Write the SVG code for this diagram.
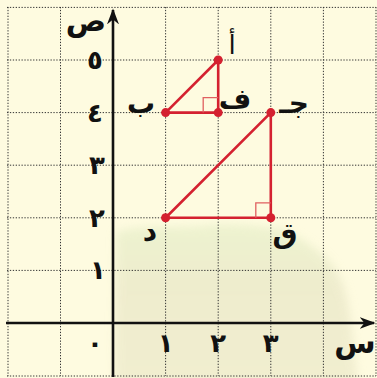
<svg xmlns="http://www.w3.org/2000/svg" width="377" height="378" viewBox="0 0 377 378">
<defs>
<style>
.grid{stroke:#333;stroke-width:1;stroke-dasharray:1.3 1.6;fill:none}
.axis{stroke:#111;stroke-width:2.6;fill:none}
.seg{stroke:#d42130;stroke-width:2.6;fill:none;stroke-linecap:round}
.ra{stroke:#e06060;stroke-width:1.3;fill:none}
.pt{fill:#d42130}
.num{font-family:"DejaVu Sans",sans-serif;font-weight:bold;font-size:26px;fill:#111;text-anchor:middle;dominant-baseline:central}
.lbl{font-family:"DejaVu Sans",sans-serif;font-weight:bold;font-size:28px;fill:#111;text-anchor:middle;dominant-baseline:central}
</style>
<marker id="ah" viewBox="0 0 10 10" refX="9" refY="5" markerWidth="16" markerHeight="12" markerUnits="userSpaceOnUse" orient="auto" preserveAspectRatio="none">
<path d="M0,0 L10,5 L0,10 L3,5 Z" fill="#111"/>
</marker>
<linearGradient id="bg2" x1="0" y1="0" x2="0" y2="1">
<stop offset="0" stop-color="#e2edc4"/>
<stop offset="0.4" stop-color="#e5e3c2"/>
<stop offset="1" stop-color="#e9e6c6"/>
</linearGradient>
<filter id="blur" x="-20%" y="-20%" width="140%" height="140%"><feGaussianBlur stdDeviation="5"/></filter>
</defs>
<rect width="377" height="378" fill="#fefbe0"/>
<g filter="url(#blur)" opacity="0.6">
<path d="M116,232 C140,224 170,228 200,226 C230,222 260,226 285,230 C305,240 318,250 330,262 C345,280 348,300 352,330 L358,385 L114,385 Z" fill="url(#bg2)"/>
</g>
<g id="grid">
<path class="grid" d="M8,7V376M60.5,7V376M165.6,7V376M218.2,7V376M270.8,7V376M323.4,7V376M376,7V376"/>
<path class="grid" d="M7,7.4H376M7,60H376M7,112.6H376M7,165.2H376M7,217.8H376M7,270.4H376M7,376H376"/>
</g>
<g id="connectors">
<line class="axis" x1="113" y1="377" x2="113" y2="10" marker-end="url(#ah)"/>
<line class="axis" x1="6" y1="323" x2="374" y2="323" marker-end="url(#ah)"/>
<path class="seg" d="M218.2,60 L165.6,112.6 L218.2,112.6 Z"/>
<path class="seg" d="M270.8,112.6 L165.6,217.8 L270.8,217.8 Z"/>
<path class="ra" d="M203.2,112.6 V97.6 H218.2"/>
<path class="ra" d="M255.8,217.8 V202.8 H270.8"/>
</g>
<g id="pA"><circle class="pt" cx="218.2" cy="60" r="4.5"/><text class="lbl" x="232" y="45" style="font-weight:normal;font-size:26px">أ</text></g>
<g id="pB"><circle class="pt" cx="165.6" cy="112.6" r="4.5"/><text class="lbl" x="141" y="103">ب</text></g>
<g id="pF"><circle class="pt" cx="218.2" cy="112.6" r="4.5"/><text class="lbl" x="235" y="98">ف</text></g>
<g id="pJ"><circle class="pt" cx="270.8" cy="112.6" r="4.5"/><text class="lbl" x="294" y="103">جـ</text></g>
<g id="pD"><circle class="pt" cx="165.6" cy="217.8" r="4.5"/><text class="lbl" x="150" y="231">د</text></g>
<g id="pQ"><circle class="pt" cx="270.8" cy="217.8" r="4.5"/><text class="lbl" x="285" y="233">ق</text></g>
<g id="labels">
<text class="lbl" x="86" y="20" style="font-size:30px">ص</text>
<text class="lbl" x="355" y="342" style="font-size:30px">س</text>
<text class="num" x="95" y="60">٥</text>
<text class="num" x="95" y="112.6">٤</text>
<text class="num" x="97" y="165.2">٣</text>
<text class="num" x="97" y="217.8">٢</text>
<text class="num" x="98" y="270.4">١</text>
<text class="num" x="95" y="343">٠</text>
<text class="num" x="165.6" y="343">١</text>
<text class="num" x="218.2" y="343">٢</text>
<text class="num" x="270.8" y="343">٣</text>
</g>
</svg>
